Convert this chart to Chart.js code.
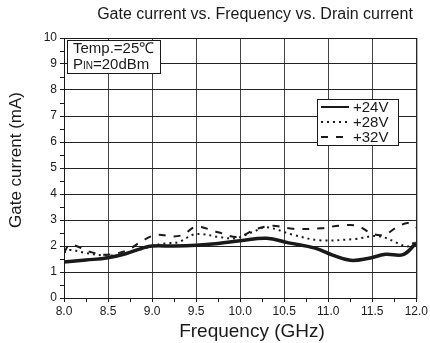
<!DOCTYPE html>
<html>
<head>
<meta charset="utf-8">
<script src="https://cdn.jsdelivr.net/npm/chart.js@4.4.0/dist/chart.umd.min.js"></script>
<style>
  body { margin: 0; background: #fff; }
  #wrap { width: 430px; height: 343px; }
</style>
</head>
<body>
<div id="wrap"><canvas id="chart"></canvas></div>
<script>
// values
var chartTitle = 'Gate current vs. Frequency vs. Drain current';
var xTitle = 'Frequency (GHz)';
var yTitle = 'Gate current (mA)';
var seriesNames = ['+24V', '+28V', '+32V'];

var freq24 = [8.0, 8.25, 8.5, 8.7, 8.9, 9.0, 9.25, 9.5, 9.75, 10.0, 10.3, 10.55, 10.85, 11.05, 11.25, 11.45, 11.65, 11.85, 12.0];
var gate24 = [1.38, 1.46, 1.55, 1.7, 1.93, 2.0, 2.0, 2.03, 2.1, 2.2, 2.3, 2.12, 1.92, 1.65, 1.45, 1.52, 1.68, 1.67, 2.12];

var freq28 = [8.0, 8.07, 8.23, 8.44, 8.63, 8.86, 9.0, 9.15, 9.3, 9.46, 9.57, 9.75, 9.95, 10.15, 10.3, 10.6, 10.9, 11.3, 11.57, 11.8, 11.9, 12.0];
var gate28 = [1.74, 1.85, 1.74, 1.64, 1.66, 1.86, 2.0, 2.1, 2.15, 2.43, 2.46, 2.35, 2.3, 2.55, 2.72, 2.43, 2.22, 2.27, 2.38, 2.1, 1.98, 2.2];

var freq32 = [8.0, 8.07, 8.3, 8.48, 8.71, 8.9, 9.05, 9.24, 9.35, 9.5, 9.75, 9.97, 10.18, 10.37, 10.6, 10.92, 11.12, 11.33, 11.5, 11.64, 11.76, 11.9, 12.0];
var gate32 = [1.75, 2.05, 1.77, 1.66, 1.83, 2.22, 2.43, 2.37, 2.43, 2.74, 2.53, 2.35, 2.65, 2.78, 2.66, 2.68, 2.78, 2.78, 2.47, 2.43, 2.68, 2.88, 2.72];

var FONT = "'Liberation Sans', Arial, sans-serif";
var INK = '#1a1a1a';

function pts(xs, ys) {
  var out = [];
  for (var i = 0; i < xs.length; i++) out.push({x: xs[i], y: ys[i]});
  return out;
}

function isHalf(v) { return Math.abs(v * 2 - Math.round(v * 2)) < 1e-6; }
function isInt(v) { return Math.abs(v - Math.round(v)) < 1e-6; }

// frame, boxed notes, legend and titles
var decor = {
  id: 'decor',
  afterDraw: function(chart) {
    var ctx = chart.ctx;
    var a = chart.chartArea;
    ctx.save();
    ctx.strokeStyle = INK;
    ctx.lineWidth = 1;
    ctx.strokeRect(a.left + 0.5, a.top + 0.5, a.right - a.left, a.bottom - a.top);

    ctx.fillStyle = INK;
    ctx.textBaseline = 'middle';
    ctx.font = '16px ' + FONT;
    ctx.textAlign = 'center';
    ctx.fillText(chartTitle, 255, 15);
    ctx.font = '19px ' + FONT;
    ctx.fillText(xTitle, 252, 332);

    // y title
    ctx.save();
    ctx.translate(16, 160);
    ctx.rotate(-Math.PI / 2);
    ctx.font = '17px ' + FONT;
    ctx.fillText(yTitle, 0, 0);
    ctx.restore();

    // conditions box
    ctx.fillStyle = '#fff';
    ctx.fillRect(67, 40, 93, 33);
    ctx.strokeRect(67.5, 40.5, 93, 33);
    ctx.fillStyle = INK;
    ctx.textAlign = 'left';
    ctx.font = '15px ' + FONT;
    ctx.fillText('Temp.=25\u2103', 73, 49);
    ctx.fillText('P', 73, 65);
    var w = ctx.measureText('P').width;
    ctx.font = '10px ' + FONT;
    ctx.fillText('IN', 73 + w, 66);
    var w2 = ctx.measureText('IN').width;
    ctx.font = '15px ' + FONT;
    ctx.fillText('=20dBm', 73 + w + w2, 65);

    // legend
    ctx.fillStyle = '#fff';
    ctx.fillRect(317, 99, 81, 46);
    ctx.strokeRect(317.5, 99.5, 81, 46);
    var rows = [107, 122, 137];
    chart.data.datasets.forEach(function(ds, i) {
      ctx.strokeStyle = INK;
      ctx.lineWidth = 2;
      ctx.setLineDash(ds.borderDash || []);
      ctx.beginPath();
      ctx.moveTo(321, rows[i]);
      ctx.lineTo(349, rows[i]);
      ctx.stroke();
      ctx.setLineDash([]);
      ctx.fillStyle = INK;
      ctx.font = '15px ' + FONT;
      ctx.fillText(ds.label, 353, rows[i] + 1);
    });
    ctx.restore();
  }
};

new Chart(document.getElementById('chart'), {
  type: 'line',
  data: {
    datasets: [
      {
        label: seriesNames[0],
        data: pts(freq24, gate24),
        borderColor: INK,
        borderWidth: 3.5,
        tension: 0.4,
        pointRadius: 0
      },
      {
        label: seriesNames[1],
        data: pts(freq28, gate28),
        borderColor: INK,
        borderWidth: 2,
        borderDash: [2, 4],
        tension: 0.35,
        pointRadius: 0
      },
      {
        label: seriesNames[2],
        data: pts(freq32, gate32),
        borderColor: INK,
        borderWidth: 2,
        borderDash: [7, 8],
        tension: 0.35,
        pointRadius: 0
      }
    ]
  },
  options: {
    responsive: true,
    maintainAspectRatio: false,
    animation: false,
    layout: { padding: { top: 38, right: 12, left: 0, bottom: 0 } },
    plugins: {
      legend: { display: false },
      title: { display: false },
      tooltip: { enabled: false }
    },
    scales: {
      x: {
        type: 'linear',
        min: 8,
        max: 12,
        afterFit: function(s) { s.height = 45; },
        afterBuildTicks: function(s) {
          var t = [];
          for (var v = 8; v <= 12.0001; v += 0.25) t.push({value: Math.round(v * 100) / 100});
          s.ticks = t;
        },
        ticks: {
          autoSkip: false,
          maxRotation: 0,
          padding: 2,
          color: INK,
          font: { size: 12, family: FONT },
          callback: function(v) { return isHalf(v) ? v.toFixed(1) : ''; }
        },
        grid: {
          color: function(c) { return c.tick && isHalf(c.tick.value) ? '#444' : 'rgba(0,0,0,0)'; },
          tickColor: INK,
          tickLength: 4
        },
        border: { color: INK }
      },
      y: {
        min: 0,
        max: 10,
        afterFit: function(s) { s.width = 64; },
        afterBuildTicks: function(s) {
          var t = [];
          for (var v = 0; v <= 10.0001; v += 0.5) t.push({value: v});
          s.ticks = t;
        },
        ticks: {
          autoSkip: false,
          padding: 3,
          color: INK,
          font: { size: 12, family: FONT },
          callback: function(v) { return isInt(v) ? String(v) : ''; }
        },
        grid: {
          color: function(c) { return c.tick && isInt(c.tick.value) ? '#222' : 'rgba(0,0,0,0)'; },
          tickColor: INK,
          tickLength: 4
        },
        border: { color: INK }
      }
    }
  },
  plugins: [decor]
});
</script>
</body>
</html>
